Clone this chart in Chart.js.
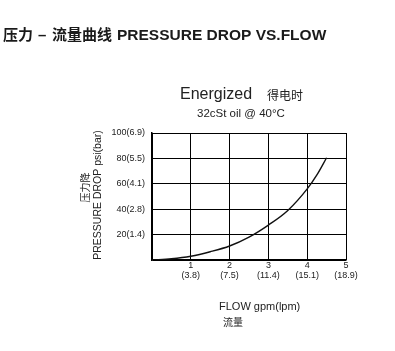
<!DOCTYPE html>
<html lang="zh-cn">
<head>
    <meta charset="UTF-8">
    <title>Pressure drop vs flow</title>
    <script src="https://cdn.jsdelivr.net/npm/chart.js"></script>
    <style>
        body { margin: 0; background: #fff; }
        #grafico { display: block; }
    </style>
</head>
<body>
    <canvas id="grafico" width="395" height="351"></canvas>

<script>
    // dados (gpm x psi)
    const flowGpm = [0, 0.5, 1, 1.5, 2, 2.5, 3, 3.5, 4, 4.25, 4.5];
    const pressurePsi = [0, 1, 3, 6.5, 11, 18, 27.5, 39, 56, 67, 80.5];

    // rotulos dos eixos
    const xTickGpm = [1, 2, 3, 4, 5];
    const xTickLpm = ['3.8', '7.5', '11.4', '15.1', '18.9'];
    const yTickPsi = [20, 40, 60, 80, 100];
    const yTickBar = ['1.4', '2.8', '4.1', '5.5', '6.9'];

    const fonteLatina = "Arial, 'Liberation Sans', sans-serif";
    const fonteCJK = "'Noto Sans CJK SC', sans-serif";

    // textos fora da area do grafico
    const textosPlugin = {
        id: 'textos',
        afterDraw(chart) {
            const ctx = chart.ctx;
            ctx.save();
            ctx.fillStyle = '#1a1a1a';
            ctx.textBaseline = 'alphabetic';
            ctx.textAlign = 'left';

            // titulo
            ctx.font = "bold 15px " + fonteCJK;
            ctx.fillText('压力', 3, 40);
            ctx.font = "bold 15px " + fonteLatina;
            ctx.fillText('–', 38, 40);
            ctx.font = "bold 15px " + fonteCJK;
            ctx.fillText('流量曲线', 52, 40);
            ctx.font = "bold 15.5px " + fonteLatina;
            ctx.fillText('PRESSURE DROP VS.FLOW', 117, 40);

            // subtitulo
            ctx.fillStyle = '#222';
            ctx.font = "16px " + fonteLatina;
            ctx.fillText('Energized', 180, 99);
            ctx.font = "12px " + fonteCJK;
            ctx.fillText('得电时', 267, 100);
            ctx.font = "11.5px " + fonteLatina;
            ctx.fillText('32cSt oil @ 40°C', 197, 117);

            // titulo eixo x
            ctx.font = "11px " + fonteLatina;
            ctx.fillText('FLOW gpm(lpm)', 219, 310);
            ctx.font = "10px " + fonteCJK;
            ctx.fillText('流量', 223, 326);

            // titulo eixo y
            ctx.save();
            ctx.translate(101, 195);
            ctx.rotate(-Math.PI / 2);
            ctx.textAlign = 'center';
            ctx.font = "10.5px " + fonteLatina;
            ctx.fillText('PRESSURE DROP psi(bar)', 0, 0);
            ctx.restore();

            ctx.save();
            ctx.translate(85, 187.5);
            ctx.rotate(-Math.PI / 2);
            ctx.textAlign = 'center';
            ctx.textBaseline = 'middle';
            ctx.font = "10px " + fonteCJK;
            ctx.fillText('压力降', 0, 0);
            ctx.restore();

            ctx.restore();
        }
    };

    const fundoBranco = {
        id: 'fundo',
        beforeDraw(chart) {
            const ctx = chart.ctx;
            ctx.save();
            ctx.fillStyle = '#fff';
            ctx.fillRect(0, 0, chart.width, chart.height);
            ctx.restore();
        }
    };

    const dados = {
        datasets: [{
            label: 'Energized',
            data: flowGpm.map((x, i) => ({ x: x, y: pressurePsi[i] })),
            borderColor: '#111',
            borderWidth: 1.4,
            pointRadius: 0,
            fill: false,
            cubicInterpolationMode: 'monotone'
        }]
    };

    const config = {
        type: 'line',
        data: dados,
        options: {
            responsive: false,
            devicePixelRatio: 1,
            animation: false,
            layout: { padding: { left: 0, top: 133, right: 49, bottom: 0 } },
            plugins: {
                legend: { display: false },
                tooltip: { enabled: false }
            },
            scales: {
                x: {
                    type: 'linear',
                    min: 0,
                    max: 5,
                    afterBuildTicks(scale) {
                        scale.ticks = [0].concat(xTickGpm).map(v => ({ value: v }));
                    },
                    afterFit(scale) { scale.height = 91; },
                    grid: { color: '#000', lineWidth: 1, drawTicks: false },
                    border: { color: '#000', width: 1.5 },
                    ticks: {
                        padding: 1,
                        color: '#222',
                        maxRotation: 0,
                        font: { family: fonteLatina, size: 9, lineHeight: 1.1 },
                        callback(value) {
                            const i = xTickGpm.indexOf(value);
                            return i < 0 ? '' : [String(value), '(' + xTickLpm[i] + ')'];
                        }
                    }
                },
                y: {
                    type: 'linear',
                    min: 0,
                    max: 100,
                    afterBuildTicks(scale) {
                        scale.ticks = [0].concat(yTickPsi).map(v => ({ value: v }));
                    },
                    afterFit(scale) { scale.width = 152; },
                    grid: { color: '#000', lineWidth: 1, drawTicks: false },
                    border: { color: '#000', width: 1.5 },
                    ticks: {
                        padding: 7,
                        color: '#222',
                        font: { family: fonteLatina, size: 9 },
                        callback(value) {
                            const i = yTickPsi.indexOf(value);
                            return i < 0 ? '' : value + '(' + yTickBar[i] + ')';
                        }
                    }
                }
            }
        },
        plugins: [fundoBranco, textosPlugin]
    };

    new Chart(document.getElementById('grafico'), config);
</script>
</body>
</html>
